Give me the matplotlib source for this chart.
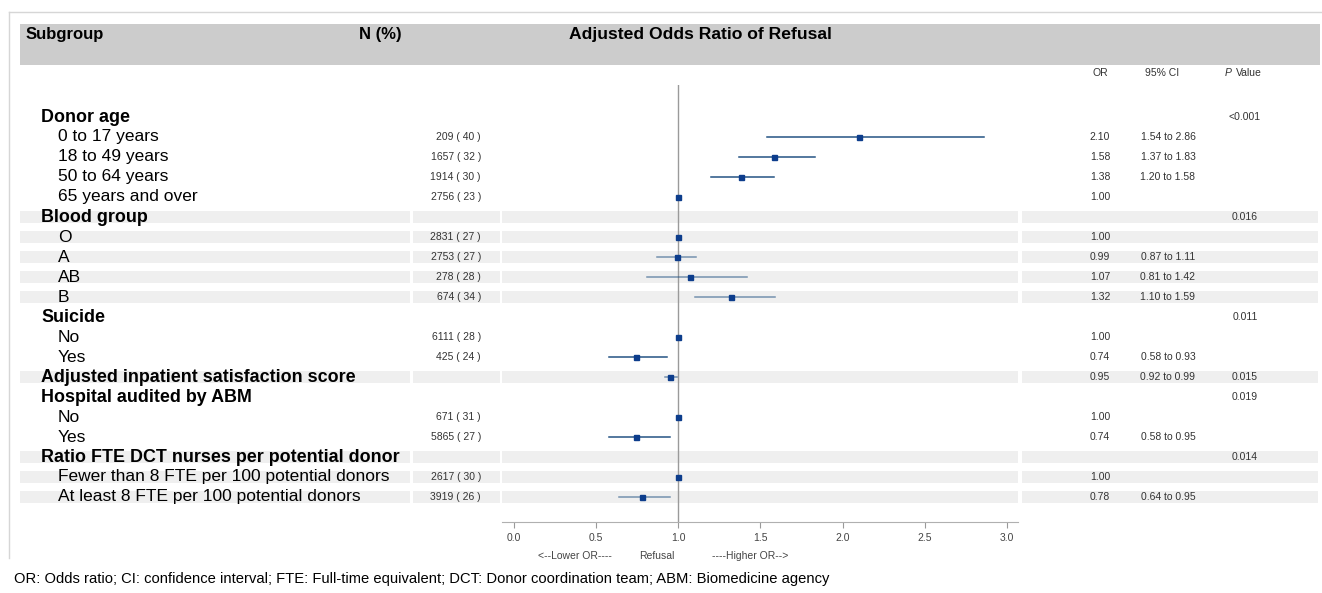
import numpy as np
import matplotlib
matplotlib.use('Agg')
import matplotlib.pyplot as plt
from matplotlib.patches import Rectangle
from matplotlib import transforms

plt.rcParams['font.family'] = ['Liberation Sans', 'DejaVu Sans']

# 表格数据
labels = ['Donor age', '0 to 17 years', '18 to 49 years', '50 to 64 years', '65 years and over',
          'Blood group', 'O', 'A', 'AB', 'B',
          'Suicide', 'No', 'Yes',
          'Adjusted inpatient satisfaction score',
          'Hospital audited by ABM', 'No', 'Yes',
          'Ratio FTE DCT nurses per potential donor',
          'Fewer than 8 FTE per 100 potential donors', 'At least 8 FTE per 100 potential donors']
is_group = [1, 0, 0, 0, 0, 1, 0, 0, 0, 0, 1, 0, 0, 1, 1, 0, 0, 1, 0, 0]
n_pct = ['', '209 ( 40 )', '1657 ( 32 )', '1914 ( 30 )', '2756 ( 23 )',
         '', '2831 ( 27 )', '2753 ( 27 )', '278 ( 28 )', '674 ( 34 )',
         '', '6111 ( 28 )', '425 ( 24 )',
         '',
         '', '671 ( 31 )', '5865 ( 27 )',
         '', '2617 ( 30 )', '3919 ( 26 )']
nan = np.nan
or_vals = [nan, 2.10, 1.58, 1.38, 1.00, nan, 1.00, 0.99, 1.07, 1.32,
           nan, 1.00, 0.74, 0.95, nan, 1.00, 0.74, nan, 1.00, 0.78]
ci_low = [nan, 1.54, 1.37, 1.20, nan, nan, nan, 0.87, 0.81, 1.10,
          nan, nan, 0.58, 0.92, nan, nan, 0.58, nan, nan, 0.64]
ci_high = [nan, 2.86, 1.83, 1.58, nan, nan, nan, 1.11, 1.42, 1.59,
           nan, nan, 0.93, 0.99, nan, nan, 0.95, nan, nan, 0.95]
p_vals = ['<0.001', '', '', '', '', '0.016', '', '', '', '',
          '0.011', '', '', '0.015', '0.019', '', '', '0.014', '', '']
shaded = [5, 6, 7, 8, 9, 13, 17, 18, 19]
xticks = [0.0, 0.5, 1.0, 1.5, 2.0, 2.5, 3.0]

W, H = 1322, 593
fig = plt.figure(figsize=(W / 100, H / 100), dpi=100)

def fx(px):
    return px / W

def fy(py):
    return 1 - py / H

# 外框和表头
fig.add_artist(plt.Line2D([fx(9), fx(1322)], [fy(12), fy(12)], color='#d6d6d6', lw=1))
fig.add_artist(plt.Line2D([fx(9), fx(9)], [fy(12), fy(558)], color='#d6d6d6', lw=1))
fig.patches.append(Rectangle((fx(20), fy(65)), fx(1300), (65 - 24) / H,
                             transform=fig.transFigure, facecolor='#cccccc', edgecolor='none'))
fig.text(fx(26), fy(35), 'Subgroup', weight='bold', size=12, va='center')
fig.text(fx(380), fy(35), 'N (%)', weight='bold', size=12, va='center', ha='center')
fig.text(fx(700), fy(35), 'Adjusted Odds Ratio of Refusal', weight='bold', size=12.6,
         va='center', ha='center')

ax = fig.add_axes([fx(502), fy(522), fx(1018 - 502), (522 - 85) / H])
ax.set_xlim(-12 / 164.33, 504 / 164.33)
ax.set_ylim(20.25, -1.6)
ax.patch.set_visible(False)
trans = transforms.blended_transform_factory(fig.transFigure, ax.transData)

# 灰色条纹
for r in shaded:
    for x0, x1 in [(20, 410), (413, 500), (502, 1018), (1022, 1318)]:
        ax.add_patch(Rectangle((fx(x0), r - 0.3), fx(x1 - x0), 0.6, transform=trans,
                               facecolor='#efefef', edgecolor='none', clip_on=False, zorder=0))

# 列标题
small = 7.5
txt = '#333333'
ax.text(fx(1100), -2.2, 'OR', transform=trans, size=small, ha='center', va='center', color=txt)
ax.text(fx(1162), -2.2, '95% CI', transform=trans, size=small, ha='center', va='center', color=txt)
ax.text(fx(1228), -2.2, 'P', transform=trans, size=small, ha='center', va='center', color=txt,
        style='italic')
ax.text(fx(1236), -2.2, 'Value', transform=trans, size=small, ha='left', va='center', color=txt)

for i in range(len(labels)):
    if is_group[i]:
        ax.text(fx(41), i, labels[i], transform=trans, size=12.9, weight='bold', va='center')
    else:
        ax.text(fx(58), i, labels[i], transform=trans, size=12.5, va='center')
    ax.text(fx(481), i, n_pct[i], transform=trans, size=small, ha='right', va='center', color=txt)
    if not np.isnan(or_vals[i]):
        ax.text(fx(1100), i, '%.2f' % or_vals[i], transform=trans, size=small, ha='center',
                va='center', color=txt)
    if not np.isnan(ci_low[i]):
        ax.text(fx(1168), i, '%.2f to %.2f' % (ci_low[i], ci_high[i]), transform=trans, size=small,
                ha='center', va='center', color=txt)
    ax.text(fx(1245), i, p_vals[i], transform=trans, size=small, ha='center', va='center', color=txt)

# 森林图
ax.axvline(1.0, color='#9a9a9a', lw=1, zorder=1)
rows = np.arange(len(labels))
for i in rows:
    if not np.isnan(ci_low[i]):
        ax.plot([ci_low[i], ci_high[i]], [i, i], color='#245484', lw=1.1,
                alpha=0.6 if i in shaded else 1.0, zorder=2)
ax.plot(or_vals, rows, linestyle='none', marker='s', markersize=3.6, color='#0d3d8c', zorder=3)

ax.set_xticks(xticks)
ax.set_xticklabels(['%.1f' % t for t in xticks])
ax.set_yticks([])
for s in ['left', 'right', 'top']:
    ax.spines[s].set_visible(False)
ax.spines['bottom'].set_color('#b0b0b0')
ax.tick_params(axis='x', length=4, color='#999', labelsize=small, labelcolor='#444', pad=4)

ax.text(0.37, 21.95, '<--Lower OR----', size=small, ha='center', va='center', color='#444', clip_on=False)
ax.text(0.87, 21.95, 'Refusal', size=small, ha='center', va='center', color='#444', clip_on=False)
ax.text(1.44, 21.95, '----Higher OR-->', size=small, ha='center', va='center', color='#444', clip_on=False)

fig.text(fx(14), fy(579), 'OR: Odds ratio; CI: confidence interval; FTE: Full-time equivalent; '
         'DCT: Donor coordination team; ABM: Biomedicine agency', size=10.6, va='center')

fig.savefig('out.png', dpi=100)
